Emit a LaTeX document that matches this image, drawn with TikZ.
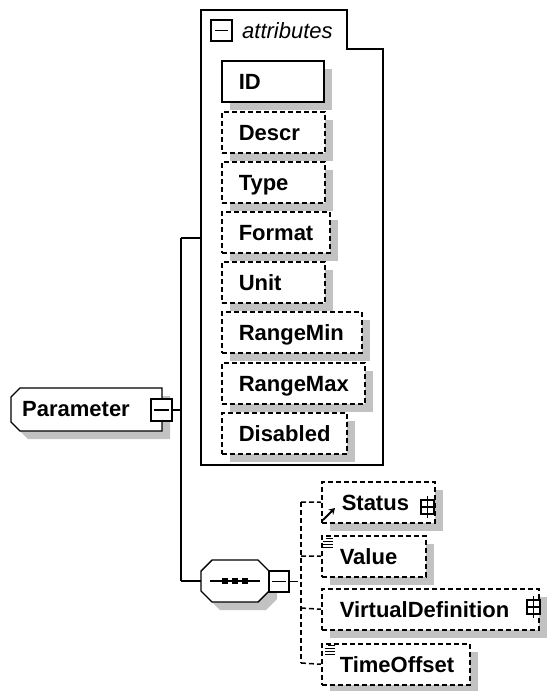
\documentclass[tikz,border=0pt]{standalone}
\usepackage{fontspec}
\setmainfont{Liberation Sans}
\usetikzlibrary{shadows,arrows.meta}
\begin{document}
\begin{tikzpicture}[x=1pt,y=-1pt,
  font=\fontsize{22}{26}\selectfont\bfseries,
  shadowfill/.style={fill=black!24,draw=none},
  myshadow/.style={drop shadow={shadow xshift=8pt,shadow yshift=-8pt,fill=black!24,opacity=1}},
  boxbase/.style={rectangle,anchor=north west,fill=white,minimum height=41pt,
    inner ysep=0pt,inner xsep=17pt,text height=17pt,text depth=0pt,align=left,myshadow},
  attrsolid/.style={boxbase,draw,line width=1.6pt},
  attrdash/.style={boxbase,draw,line width=1.5pt,dash pattern=on 5pt off 3pt},
  ctrl/.style={draw,fill=white,line width=1.4pt,rectangle,inner sep=0pt},
  conn/.style={line width=1.4pt},
  dconn/.style={line width=1.5pt,dash pattern=on 5pt off 3pt},
]
\useasboundingbox (0,0) rectangle (547,691);

% ---------- attributes frame ----------
\draw[line width=1.5pt] (201,10) -- (347,10) -- (347,49) -- (383,49) -- (383,465) -- (201,465) -- cycle;
\node[ctrl,minimum width=21pt,minimum height=21pt] (attrminus) at (221.5,30.5) {};
\draw[line width=1.4pt] ([xshift=5pt]attrminus.west) -- ([xshift=-5pt]attrminus.east);
\node[anchor=base west,inner sep=0pt,font=\fontsize{22}{26}\selectfont\itshape] (attrlabel) at (242,38) {attributes};

\node[attrsolid,text width=68pt] (ID) at (221,60) {ID};
\node[attrdash,text width=69pt] (Descr) at (221,111) {Descr};
\node[attrdash,text width=69pt] (Type) at (221,161) {Type};
\node[attrdash,text width=74pt] (Format) at (221,211) {Format};
\node[attrdash,text width=69pt] (Unit) at (221,261) {Unit};
\node[attrdash,text width=106pt] (RangeMin) at (221,311) {RangeMin};
\node[attrdash,text width=109pt] (RangeMax) at (221,362) {RangeMax};
\node[attrdash,text width=91pt] (Disabled) at (221,412) {Disabled};

% ---------- Parameter ----------
\fill[shadowfill] (28,396) -- (170,396) -- (170,439) -- (28,439) -- (19,430) -- (19,405) -- cycle;
\draw[line width=1.4pt,fill=white] (20,388) -- (162,388) -- (162,431) -- (20,431) -- (11,422) -- (11,397) -- cycle;
\node[anchor=base west,inner sep=0pt] (Parameter) at (22,416) {Parameter};
\node[ctrl,minimum width=21pt,minimum height=22pt] (pminus) at (161.5,410) {};
\draw[line width=1.4pt] ([xshift=4pt]pminus.west) -- ([xshift=-4pt]pminus.east);

% ---------- main connectors ----------
\coordinate (vtop) at (181,238);
\coordinate (vmid) at (181,410);
\coordinate (vbot) at (181,581);
\coordinate (frameleft) at (201,238);
\draw[conn] (pminus.east) -- (vmid);
\draw[conn] (vtop) -- (vbot);
\draw[conn] (vtop) -- (frameleft);

% ---------- sequence compositor ----------
\fill[shadowfill] (220,568) -- (266,568) -- (277,579) -- (277,599) -- (266,610) -- (220,610) -- (209,599) -- (209,579) -- cycle;
\draw[line width=1.4pt,fill=white] (212,560) -- (258,560) -- (269,571) -- (269,591) -- (258,602) -- (212,602) -- (201,591) -- (201,571) -- cycle;
\coordinate (seqwest) at (201,581);
\draw[conn] (vbot) -- (seqwest);
\draw[line width=1.4pt] (210,581) -- (260,581);
\foreach \xx in {225,235,245} \fill (\xx-3,578) rectangle (\xx+3,584);
\node[ctrl,minimum width=20pt,minimum height=21pt] (sminus) at (279,581.5) {};
\draw[line width=1.4pt] ([xshift=4pt]sminus.west) -- ([xshift=-4pt]sminus.east);
\coordinate (sjoin) at (298,581.5);
\draw[conn] (sminus.east) -- (sjoin);

% ---------- child elements ----------
\node[attrdash,text width=73pt,inner xsep=20pt] (Status) at (321,481) {Status};
\node[attrdash,text width=68pt,inner xsep=18pt] (Value) at (321,535) {Value};
\node[attrdash,text width=181pt,inner xsep=18pt] (Virtual) at (321,588) {VirtualDefinition};
\node[attrdash,text width=112pt,inner xsep=18pt] (TimeOffset) at (321,643) {TimeOffset};

\draw[dconn] (301,502) -- (301,663);
\draw[dconn] (301,502) -- (Status.west);
\draw[dconn] (301,556) -- (Value.west);
\draw[dconn] (301,608) -- (Virtual.west);
\draw[dconn] (301,663) -- (TimeOffset.west);

% plus boxes
\node[ctrl,minimum width=13pt,minimum height=14pt,line width=1.3pt] (splus) at (427.5,507) {};
\draw[line width=1.3pt] ([xshift=2pt]splus.west) -- ([xshift=-2pt]splus.east);
\draw[line width=1.3pt] ([yshift=3pt]splus.north) -- ([yshift=-3pt]splus.south);
\node[ctrl,minimum width=13pt,minimum height=14pt,line width=1.3pt] (vplus) at (533.5,607) {};
\draw[line width=1.3pt] ([xshift=2pt]vplus.west) -- ([xshift=-2pt]vplus.east);
\draw[line width=1.3pt] ([yshift=3pt]vplus.north) -- ([yshift=-3pt]vplus.south);

% icons
\draw[line width=1.8pt,-{Stealth[length=6pt,width=7pt]}] (323,520) -- (335,508);
\foreach \yy/\xs in {538.5/326,541.5/323,544.5/323,547.5/323}
  \draw[line width=1.2pt] (\xs,\yy) -- (333,\yy);
\foreach \yy/\xs in {645.5/328,648.5/325,651.5/325,654.5/325}
  \draw[line width=1.2pt] (\xs,\yy) -- (335,\yy);
\end{tikzpicture}
\end{document}
